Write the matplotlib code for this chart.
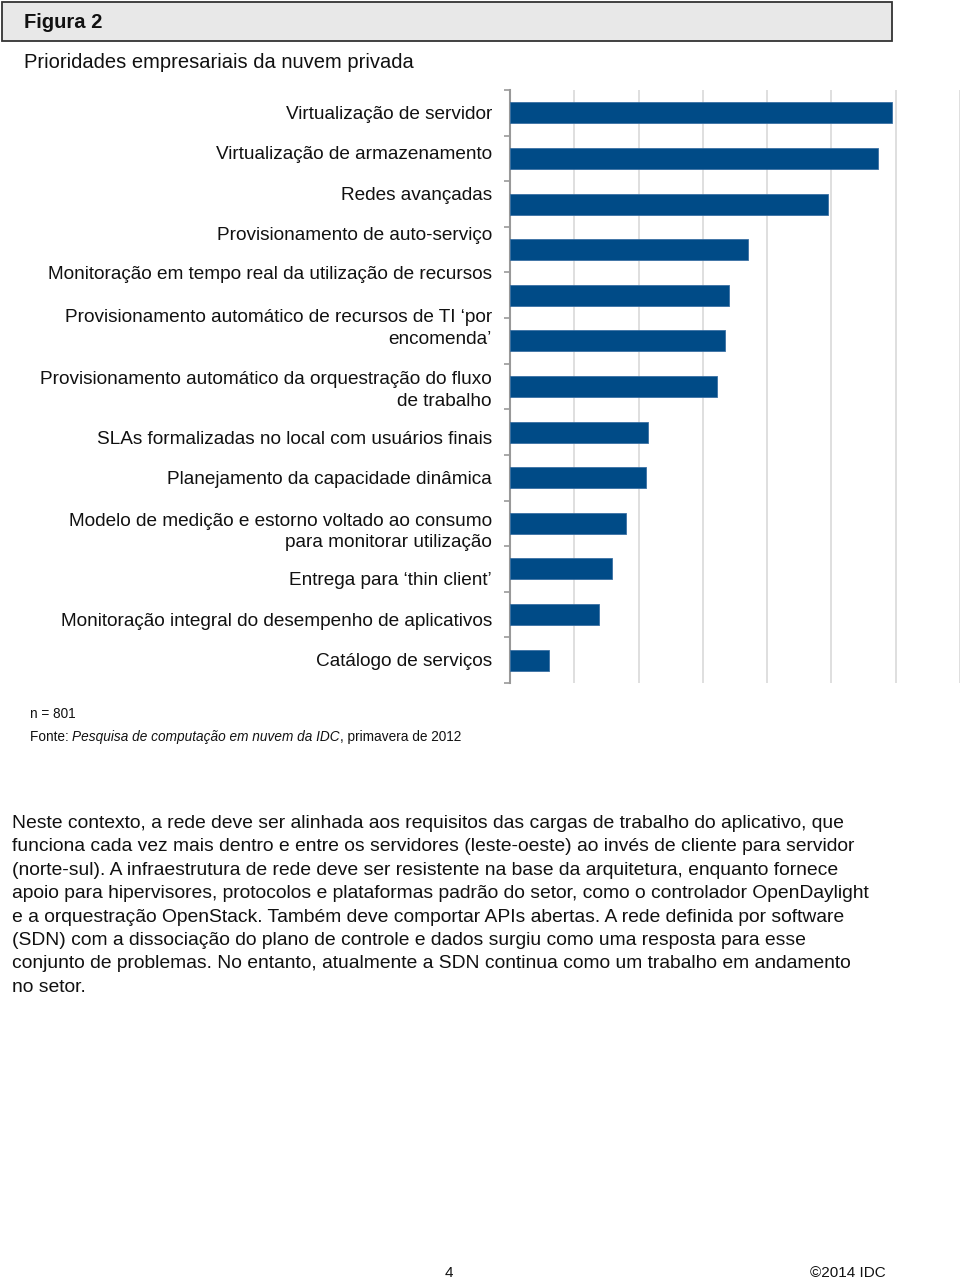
import matplotlib.pyplot as plt
from matplotlib.patches import Rectangle
import numpy as np

plt.rcParams['font.family'] = ['Liberation Sans', 'DejaVu Sans']

# Data (share of respondents, %)
categories = [
    "Virtualização de servidor",
    "Virtualização de armazenamento",
    "Redes avançadas",
    "Provisionamento de auto-serviço",
    "Monitoração em tempo real da utilização de recursos",
    "Provisionamento automático de recursos de TI \u2018por\nencomenda\u2019",
    "Provisionamento automático da orquestração do fluxo\nde trabalho",
    "SLAs formalizadas no local com usuários finais",
    "Planejamento da capacidade dinâmica",
    "Modelo de medição e estorno voltado ao consumo\npara monitorar utilização",
    "Entrega para \u2018thin client\u2019",
    "Monitoração integral do desempenho de aplicativos",
    "Catálogo de serviços",
]
values = [29.7, 28.6, 24.7, 18.5, 17.0, 16.7, 16.1, 10.7, 10.6, 9.0, 7.9, 6.9, 3.0]

# where the category labels sit (in bar-slot units, as laid out in the original)
label_pos = [0.0, 0.88, 1.76, 2.64, 3.51, 4.63, 5.99, 7.11, 7.99, 9.10, 10.22, 11.10, 11.98]

paragraph = [
    "Neste contexto, a rede deve ser alinhada aos requisitos das cargas de trabalho do aplicativo, que",
    "funciona cada vez mais dentro e entre os servidores (leste-oeste) ao invés de cliente para servidor",
    "(norte-sul). A infraestrutura de rede deve ser resistente na base da arquitetura, enquanto fornece",
    "apoio para hipervisores, protocolos e plataformas padrão do setor, como o controlador OpenDaylight",
    "e a orquestração OpenStack. Também deve comportar APIs abertas. A rede definida por software",
    "(SDN) com a dissociação do plano de controle e dados surgiu como uma resposta para esse",
    "conjunto de problemas. No entanto, atualmente a SDN continua como um trabalho em andamento",
    "no setor.",
]

W, H = 960, 1281
fig = plt.figure(figsize=(W / 100, H / 100), dpi=100)


def fx(px):
    return px / W


def fy(py):
    return 1 - py / H


# Header box
fig.patches.append(Rectangle((fx(2), fy(41)), fx(890), 39 / H, transform=fig.transFigure,
                             facecolor='#e8e8e8', edgecolor='#333333', linewidth=1.3))
fig.text(fx(24), fy(22), "Figura 2", fontsize=14.5, fontweight='bold', va='center', color='#111111')
fig.text(fx(24), fy(63), "Prioridades empresariais da nuvem privada", fontsize=14.5,
         va='center', color='#111111')

# Chart
ax = fig.add_axes([fx(510), fy(683), fx(450), (683 - 90) / H])
y = np.arange(len(categories))
ax.barh(y, values, height=0.46, color='#004b87', edgecolor='#3a70a3', linewidth=0.6, zorder=3)
ax.set_ylim(len(categories) - 0.5, -0.5)
ax.set_xlim(0, 35)

ax.set_xticks(np.arange(5, 36, 5))
ax.xaxis.grid(True, color='#d9d9d9', linewidth=1.2, zorder=0)
ax.tick_params(axis='x', length=0, labelbottom=False)

ax.set_yticks(label_pos)
ax.set_yticklabels(categories, fontsize=13.7, color='#111111', linespacing=1.35)
ax.set_yticks(np.arange(-0.5, len(categories), 1), minor=True)
ax.tick_params(axis='y', which='major', length=0, pad=13)
ax.tick_params(axis='y', which='minor', length=4, width=1.2, color='#999999', direction='out')

for side in ['top', 'right', 'bottom']:
    ax.spines[side].set_visible(False)
ax.spines['left'].set_color('#999999')
ax.spines['left'].set_linewidth(1.5)

# Footnotes
fig.text(fx(30), fy(714), "n = 801", fontsize=9.8, va='center', color='#111111')
t1 = fig.text(fx(30), fy(737), "Fonte: ", fontsize=9.8, va='center', color='#111111')
t2 = ax.annotate("Pesquisa de computação em nuvem da IDC", xy=(1, 0), xycoords=t1,
                 va='bottom', ha='left', fontsize=9.8, style='italic', color='#111111',
                 annotation_clip=False)
ax.annotate(", primavera de 2012", xy=(1, 0), xycoords=t2, va='bottom', ha='left',
            fontsize=9.8, color='#111111', annotation_clip=False)

# Body text
for i, line in enumerate(paragraph):
    fig.text(fx(12), fy(828 + i * 23.4), line, fontsize=13.9, va='baseline', color='#111111')

# Page footer
fig.text(fx(449), fy(1273), "4", fontsize=11, va='center', ha='center', color='#111111')
fig.text(fx(886), fy(1273), "\u00a92014 IDC", fontsize=11, va='center', ha='right', color='#111111')

fig.savefig('out.png', dpi=100)
